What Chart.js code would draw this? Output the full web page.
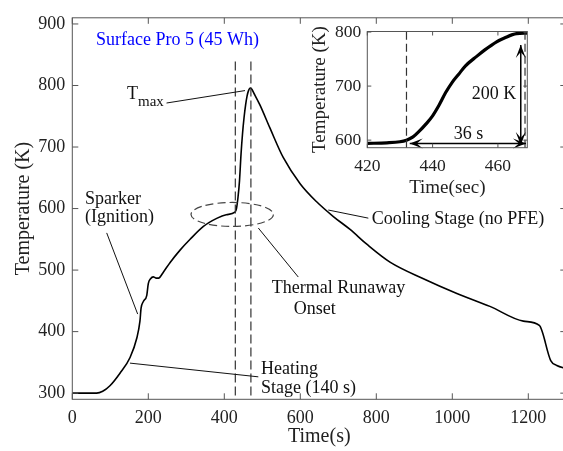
<!DOCTYPE html>
<html>
<head>
<meta charset="utf-8">
<script src="https://cdn.jsdelivr.net/npm/chart.js@4.4.1/dist/chart.umd.min.js"></script>
<style>
  html, body { margin: 0; padding: 0; background: #fff; overflow: hidden; }
  #wrap { position: relative; width: 567px; height: 451px; }
  #main { position: absolute; left: 0; top: 0; }
  #inset { position: absolute; left: 300px; top: 15px; }
</style>
</head>
<body>
<div id="wrap">
  <canvas id="main" width="567" height="451"></canvas>
  <canvas id="inset" width="240" height="190"></canvas>
</div>
<script>
// main curve: time (s) and temperature (K)
const mainTime = [0, 30, 64, 80, 99, 125, 152, 170, 178, 181, 187, 196, 200, 206, 213, 220, 227, 240,
  257, 283, 310, 345, 380, 405, 428, 432, 436, 440, 444, 448, 452, 456, 460, 464, 468, 471, 480,
  494, 520, 555, 600, 643, 687, 731, 775, 836, 924, 1012, 1099, 1187, 1229, 1259, 1275, 1300];
const mainTemp = [300, 300, 300, 303, 312, 332, 358, 390, 417, 438, 449, 459, 478, 486, 489, 487, 487, 497,
  512, 532, 550, 571, 584, 590, 594, 600, 618, 645, 688, 722, 748, 768, 783, 792, 796, 795, 785,
  768, 731, 683, 640, 611, 587, 566, 542, 513, 486, 462, 441, 417, 410, 353, 345, 340];

// inset: zoom on the thermal runaway
const insetTime = [420, 426, 430, 432, 434, 436, 438, 440, 442, 444, 446, 448, 450, 453.5, 456, 459.6, 462, 465.7, 469];
const insetTemp = [594, 595, 597, 600, 606, 617, 630, 645, 665, 688, 707, 722, 737, 755, 767, 782, 789, 797, 798];

const mainXTicks = [0, 200, 400, 600, 800, 1000, 1200];
const mainYTicks = [300, 400, 500, 600, 700, 800, 900];
const insetXTicks = [420, 440, 460];
const insetYTicks = [600, 700, 800];

const SERIF = "'Liberation Serif', 'Times New Roman', serif";
const AXIS = '#555';
const INK = '#222';

function boxTicks(len) {
  return {
    id: 'boxTicks',
    beforeDraw(chart) {
      const { ctx, chartArea: a } = chart;
      ctx.save();
      ctx.fillStyle = '#fff';
      ctx.fillRect(a.left, a.top, a.right - a.left, a.bottom - a.top);
      ctx.restore();
    },
    afterDraw(chart) {
      const { ctx, chartArea: a, scales: { x, y } } = chart;
      ctx.save();
      ctx.strokeStyle = AXIS;
      ctx.lineWidth = 1;
      ctx.strokeRect(a.left, a.top, a.right - a.left, a.bottom - a.top);
      ctx.beginPath();
      x.ticks.forEach(t => {
        const px = x.getPixelForValue(t.value);
        ctx.moveTo(px, a.bottom); ctx.lineTo(px, a.bottom - len);
        ctx.moveTo(px, a.top); ctx.lineTo(px, a.top + len);
      });
      y.ticks.forEach(t => {
        const py = y.getPixelForValue(t.value);
        ctx.moveTo(a.left, py); ctx.lineTo(a.left + len, py);
        ctx.moveTo(a.right, py); ctx.lineTo(a.right - len, py);
      });
      ctx.stroke();
      ctx.restore();
    }
  };
}

function arrowHead(ctx, tx, ty, ang) {
  const L = 13, W = 5, N = 7;
  ctx.save();
  ctx.translate(tx, ty);
  ctx.rotate(ang);
  ctx.beginPath();
  ctx.moveTo(0, 0);
  ctx.lineTo(-L, -W);
  ctx.lineTo(-N, 0);
  ctx.lineTo(-L, W);
  ctx.closePath();
  ctx.fill();
  ctx.restore();
}

function seg(ctx, X, Y, p) {
  ctx.beginPath();
  ctx.moveTo(X(p[0]), Y(p[1]));
  ctx.lineTo(X(p[2]), Y(p[3]));
  ctx.stroke();
}

// annotations of the main plot, in data units
const mainNotes = {
  id: 'mainNotes',
  afterDatasetsDraw(chart) {
    const { ctx, scales: { x, y } } = chart;
    const X = v => x.getPixelForValue(v), Y = v => y.getPixelForValue(v);
    ctx.save();

    // dashed markers of the runaway window
    ctx.strokeStyle = '#333';
    ctx.lineWidth = 1.2;
    ctx.setLineDash([9, 4]);
    seg(ctx, X, Y, [429, 296, 429, 840]);
    seg(ctx, X, Y, [470, 296, 470, 840]);

    // onset ellipse
    ctx.strokeStyle = '#444';
    ctx.setLineDash([8, 4]);
    ctx.beginPath();
    const cx = X(420.8), cy = Y(590.4);
    ctx.ellipse(cx, cy, X(420.8 + 108.4) - cx, cy - Y(590.4 + 19.5), 0, 0, Math.PI * 2);
    ctx.stroke();
    ctx.setLineDash([]);

    // leader lines
    ctx.strokeStyle = '#111';
    ctx.lineWidth = 1;
    seg(ctx, X, Y, [248, 771.5, 454.5, 791.7]);
    seg(ctx, X, Y, [90.5, 560.4, 172, 428.5]);
    seg(ctx, X, Y, [151.8, 348.8, 489.5, 326.5]);
    seg(ctx, X, Y, [489.5, 568.4, 594.7, 488.7]);
    seg(ctx, X, Y, [673.7, 597.6, 779, 584.4]);

    // texts
    ctx.textAlign = 'left';
    ctx.textBaseline = 'alphabetic';
    ctx.fillStyle = '#0000ff';
    ctx.font = '18px ' + SERIF;
    ctx.fillText('Surface Pro 5 (45 Wh)', X(62.6), Y(866));
    ctx.fillStyle = '#111';
    ctx.fillText('T', X(144), Y(777.4));
    ctx.font = '15px ' + SERIF;
    ctx.fillText('max', X(173), Y(766.7));
    ctx.font = '18px ' + SERIF;
    ctx.fillText('Sparker', X(33.4), Y(608));
    ctx.fillText('(Ignition)', X(33.4), Y(578.8));
    ctx.fillText('Heating', X(496.6), Y(330.8));
    ctx.fillText('Stage (140 s)', X(496.6), Y(300));
    ctx.fillText('Thermal Runaway', X(524.7), Y(462));
    ctx.fillText('Onset', X(583), Y(428.5));
    ctx.fillText('Cooling Stage (no PFE)', X(788), Y(575.3));
    ctx.restore();
  }
};

// annotations of the inset, in data units
const insetNotes = {
  id: 'insetNotes',
  afterDatasetsDraw(chart) {
    const { ctx, scales: { x, y } } = chart;
    const X = v => x.getPixelForValue(v), Y = v => y.getPixelForValue(v);
    ctx.save();
    ctx.strokeStyle = '#333';
    ctx.lineWidth = 1.2;
    ctx.setLineDash([8, 4]);
    seg(ctx, X, Y, [432, 586, 432, 801]);
    seg(ctx, X, Y, [468.3, 586, 468.3, 801]);
    ctx.setLineDash([]);

    ctx.strokeStyle = '#000';
    ctx.fillStyle = '#000';
    ctx.lineWidth = 1.5;
    seg(ctx, X, Y, [467, 591, 467, 776]);
    arrowHead(ctx, X(467), Y(776), -Math.PI / 2);
    arrowHead(ctx, X(467), Y(591), Math.PI / 2);
    seg(ctx, X, Y, [433, 594, 468.6, 594]);
    arrowHead(ctx, X(433), Y(594), Math.PI);
    arrowHead(ctx, X(468.6), Y(594), 0);

    ctx.fillStyle = '#111';
    ctx.font = '18px ' + SERIF;
    ctx.textAlign = 'left';
    ctx.textBaseline = 'alphabetic';
    ctx.fillText('200 K', X(452), Y(676));
    ctx.fillText('36 s', X(446.5), Y(603));
    ctx.restore();
  }
};

function axis(opts) {
  return {
    type: 'linear',
    min: opts.min,
    max: opts.max,
    afterBuildTicks: s => { s.ticks = opts.ticks.map(v => ({ value: v })); },
    afterFit: opts.fit,
    grid: { display: false, drawTicks: false },
    border: { display: false },
    ticks: {
      font: { family: SERIF, size: opts.tickSize },
      color: INK,
      padding: opts.tickPad,
      maxRotation: 0,
      autoSkip: false,
      callback: v => String(v)
    },
    title: {
      display: true,
      text: opts.title,
      font: { family: SERIF, size: opts.titleSize, lineHeight: 1.2 },
      color: INK,
      padding: opts.titlePad
    }
  };
}

new Chart(document.getElementById('main'), {
  type: 'line',
  data: {
    datasets: [{
      data: mainTime.map((t, i) => ({ x: t, y: mainTemp[i] })),
      borderColor: '#000',
      borderWidth: 1.6,
      pointRadius: 0,
      cubicInterpolationMode: 'monotone'
    }]
  },
  options: {
    responsive: false,
    animation: false,
    events: [],
    layout: { padding: { top: 11, right: 0.7, left: 0, bottom: 0 } },
    plugins: { legend: { display: false }, tooltip: { enabled: false } },
    scales: {
      x: axis({ min: 0, max: 1300, ticks: mainXTicks, fit: s => { s.height = 51.7; },
        tickSize: 18, tickPad: 8, title: 'Time(s)', titleSize: 20, titlePad: { top: 0, bottom: 2 } }),
      y: axis({ min: 290, max: 910, ticks: mainYTicks, fit: s => { s.width = 72.3; },
        tickSize: 18, tickPad: 7, title: 'Temperature (K)', titleSize: 20, titlePad: { top: 12, bottom: 0 } })
    }
  },
  plugins: [boxTicks(6), mainNotes]
});

new Chart(document.getElementById('inset'), {
  type: 'line',
  data: {
    datasets: [{
      data: insetTime.map((t, i) => ({ x: t, y: insetTemp[i] })),
      borderColor: '#000',
      borderWidth: 3.2,
      pointRadius: 0,
      cubicInterpolationMode: 'monotone'
    }]
  },
  options: {
    responsive: false,
    animation: false,
    events: [],
    layout: { padding: { top: 14.3, right: 12.7, left: 0, bottom: 0 } },
    plugins: { legend: { display: false }, tooltip: { enabled: false } },
    scales: {
      x: axis({ min: 420, max: 469, ticks: insetXTicks, fit: s => { s.height = 57.3; },
        tickSize: 17.5, tickPad: 8.5, title: 'Time(sec)', titleSize: 19, titlePad: { top: 0, bottom: 5.6 } }),
      y: axis({ min: 586, max: 801, ticks: insetYTicks, fit: s => { s.width = 67.3; },
        tickSize: 17.5, tickPad: 6, title: 'Temperature (K)', titleSize: 19, titlePad: { top: 8.6, bottom: 0 } })
    }
  },
  plugins: [boxTicks(4), insetNotes]
});
</script>
</body>
</html>
